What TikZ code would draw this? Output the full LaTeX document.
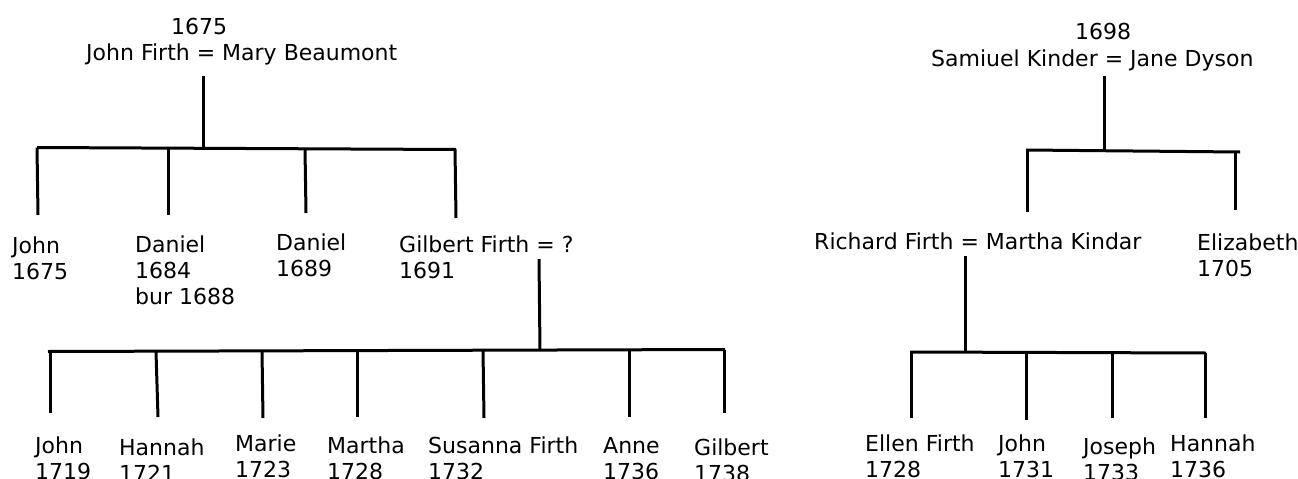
\documentclass[tikz,border=0pt]{standalone}
\usepackage{fontspec}
\setmainfont{DejaVu Sans}
\newcommand{\lines}[1]{\begin{tabular}[t]{@{}l@{}}#1\end{tabular}}
\tikzset{
  person/.style={anchor=base west, inner sep=0pt, font=\fontsize{22}{26}\selectfont},
  couple/.style={anchor=base west, inner sep=0pt, font=\fontsize{22}{27}\selectfont},
  link/.style={line width=3pt}
}
\begin{document}
\begin{tikzpicture}[x=1pt,y=-1pt]
\useasboundingbox[fill=white] (0,0) rectangle (1298,479);
% texts
\node[couple] (fm) at (86,34) {\lines{\hspace{85pt}1675\\John Firth = Mary Beaumont}};
\node[couple] (kd) at (931,39) {\lines{\hspace{144pt}1698\\Samiuel Kinder = Jane Dyson}};
\node[person] (john1) at (12,253) {\lines{John\\1675}};
\node[person] (dan1) at (135,252) {\lines{Daniel\\1684\\bur 1688}};
\node[person] (dan2) at (276,250) {\lines{Daniel\\1689}};
\node[person] (gil) at (399,252) {\lines{Gilbert Firth = ?\\1691}};
\node[person] (rich) at (814,249) {Richard Firth = Martha Kindar};
\node[person] (eliz) at (1197,250) {\lines{Elizabeth\\1705}};
\node[person] (c1) at (35,453) {\lines{John\\1719}};
\node[person] (c2) at (119,455) {\lines{Hannah\\1721}};
\node[person] (c3) at (235,451) {\lines{Marie\\1723}};
\node[person] (c4) at (327,453) {\lines{Martha\\1728}};
\node[person] (c5) at (428,453) {\lines{Susanna Firth\\1732}};
\node[person] (c6) at (603,453) {\lines{Anne\\1736}};
\node[person] (c7) at (694,455) {\lines{Gilbert\\1738}};
\node[person] (d1) at (865,451.5) {\lines{Ellen Firth\\1728}};
\node[person] (d2) at (998,451.5) {\lines{John\\1731}};
\node[person] (d3) at (1083,454) {\lines{Joseph\\1733}};
\node[person] (d4) at (1170,451.5) {\lines{Hannah\\1736}};
% tree A: John Firth = Mary Beaumont
\coordinate (aTop) at (203,76);
\coordinate (aJ) at (203,148.5);
\coordinate (aL) at (37,147.5);
\coordinate (aR) at (456,149.5);
\coordinate (a1t) at (37,147.5); \coordinate (a1b) at (38,215);
\coordinate (a2t) at (168,148); \coordinate (a2b) at (168,215);
\coordinate (a3t) at (305,149); \coordinate (a3b) at (306,213);
\coordinate (a4t) at (455,149.5); \coordinate (a4b) at (456,218);
\draw[link] (aTop) -- (aJ);
\draw[link] (aL) -- (aR);
\draw[link] (a1t) -- (a1b);
\draw[link] (a2t) -- (a2b);
\draw[link] (a3t) -- (a3b);
\draw[link] (a4t) -- (a4b);
% tree B: Gilbert Firth
\coordinate (bTop) at (539,259);
\coordinate (bJ) at (540,350.5);
\coordinate (bL) at (48,351.5);
\coordinate (bR) at (725,349.5);
\coordinate (b1t) at (50,351.5); \coordinate (b1b) at (50,413);
\coordinate (b2t) at (156,351.5); \coordinate (b2b) at (158,417);
\coordinate (b3t) at (262,351); \coordinate (b3b) at (263,418);
\coordinate (b4t) at (357,351); \coordinate (b4b) at (357,417);
\coordinate (b5t) at (483,350.5); \coordinate (b5b) at (484,418);
\coordinate (b6t) at (629,350); \coordinate (b6b) at (629,417);
\coordinate (b7t) at (724,349.5); \coordinate (b7b) at (724,413);
\draw[link] (bTop) -- (bJ);
\draw[link] (bL) -- (bR);
\draw[link] (b1t) -- (b1b);
\draw[link] (b2t) -- (b2b);
\draw[link] (b3t) -- (b3b);
\draw[link] (b4t) -- (b4b);
\draw[link] (b5t) -- (b5b);
\draw[link] (b6t) -- (b6b);
\draw[link] (b7t) -- (b7b);
% tree C: Samiuel Kinder = Jane Dyson
\coordinate (cTop) at (1104,76);
\coordinate (cJ) at (1104,150.5);
\coordinate (cL) at (1026,150);
\coordinate (cR) at (1240,152);
\coordinate (cc1t) at (1027,150); \coordinate (cc1b) at (1027,212);
\coordinate (cc2t) at (1235,152); \coordinate (cc2b) at (1235,210);
\draw[link] (cTop) -- (cJ);
\draw[link] (cL) -- (cR);
\draw[link] (cc1t) -- (cc1b);
\draw[link] (cc2t) -- (cc2b);
% tree D: Richard Firth = Martha Kindar
\coordinate (dTop) at (965,256);
\coordinate (dJ) at (965,352);
\coordinate (dL) at (910,352);
\coordinate (dR) at (1206,353);
\coordinate (dd1t) at (911,352); \coordinate (dd1b) at (911,418);
\coordinate (dd2t) at (1026,352.5); \coordinate (dd2b) at (1026,420);
\coordinate (dd3t) at (1112,352.5); \coordinate (dd3b) at (1112,418);
\coordinate (dd4t) at (1205,353); \coordinate (dd4b) at (1205,418);
\draw[link] (dTop) -- (dJ);
\draw[link] (dL) -- (dR);
\draw[link] (dd1t) -- (dd1b);
\draw[link] (dd2t) -- (dd2b);
\draw[link] (dd3t) -- (dd3b);
\draw[link] (dd4t) -- (dd4b);
\end{tikzpicture}
\end{document}
